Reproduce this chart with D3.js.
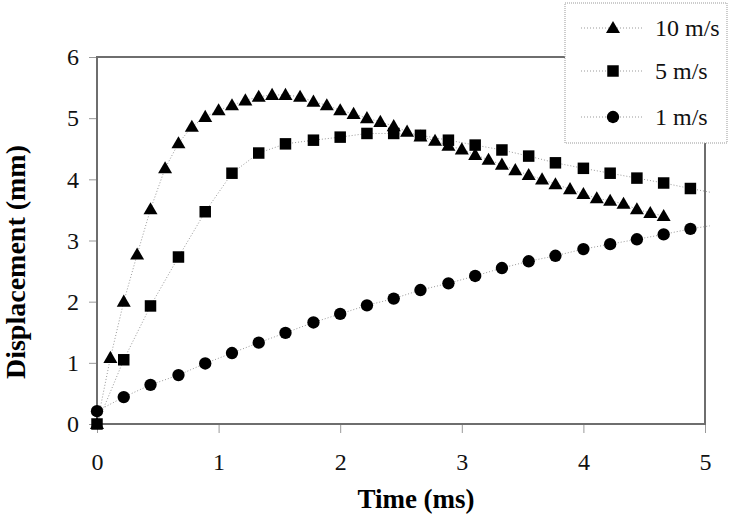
<!DOCTYPE html>
<html><head><meta charset="utf-8">
<script src="https://cdn.jsdelivr.net/npm/d3@7"></script>
<style>body{margin:0;background:#fff}svg{display:block}</style>
</head><body><svg id="c" width="733" height="516"></svg>
<script>
const seriesNames = ["10 m/s", "5 m/s", "1 m/s"];
const t10 = [0,0.11,0.22,0.33,0.44,0.56,0.67,0.78,0.89,1.00,1.11,1.22,1.33,1.44,1.55,1.67,1.78,1.89,2.00,2.11,2.22,2.33,2.44,2.55,2.66,2.78,2.89,3.00,3.11,3.22,3.33,3.44,3.55,3.66,3.77,3.89,4.00,4.11,4.22,4.33,4.44,4.55,4.66];
const v10 = [0,1.08,2.00,2.77,3.51,4.18,4.59,4.86,5.02,5.13,5.21,5.29,5.35,5.38,5.38,5.35,5.27,5.21,5.13,5.07,5.00,4.94,4.87,4.78,4.70,4.63,4.55,4.49,4.40,4.32,4.24,4.15,4.07,4.00,3.92,3.84,3.76,3.69,3.65,3.60,3.51,3.45,3.40];
const t5 = [0,0.22,0.44,0.67,0.89,1.11,1.33,1.55,1.78,2.00,2.22,2.44,2.66,2.89,3.11,3.33,3.55,3.77,4.00,4.22,4.44,4.66,4.88];
const v5 = [0,1.05,1.93,2.73,3.47,4.10,4.43,4.58,4.64,4.69,4.75,4.75,4.72,4.64,4.56,4.48,4.38,4.27,4.18,4.10,4.02,3.94,3.85];
const t1 = [0,0.22,0.44,0.67,0.89,1.11,1.33,1.55,1.78,2.00,2.22,2.44,2.66,2.89,3.11,3.33,3.55,3.77,4.00,4.22,4.44,4.66,4.88];
const v1 = [0.21,0.44,0.64,0.80,0.99,1.16,1.33,1.49,1.66,1.80,1.94,2.05,2.19,2.30,2.42,2.55,2.66,2.75,2.86,2.94,3.02,3.10,3.19];
// line continuation beyond last marker (no marker drawn)
const tail5 = [5.04, 3.79];
const tail1 = [5.04, 3.24];
const xTicks = [0,1,2,3,4,5];
const yTicks = [0,1,2,3,4,5,6];
const xTitle = "Time (ms)";
const yTitle = "Displacement (mm)";

const svg = d3.select("#c");
const x = d3.scaleLinear().domain([0,5]).range([97,705]);
const y = d3.scaleLinear().domain([0,6]).range([424,57]);
const serif = "'Liberation Serif','Times New Roman',serif";
const axisCol = "#6e6e6e";

// axes
const gx = svg.append("g").attr("transform",`translate(0,${y(0)})`)
  .call(d3.axisBottom(x).tickValues(xTicks).tickFormat(d3.format("d")).tickSize(9).tickPadding(20));
const gy = svg.append("g").attr("transform",`translate(${x(0)},0)`)
  .call(d3.axisLeft(y).tickValues(yTicks).tickFormat(d3.format("d")).tickSize(8).tickPadding(10));
[gx,gy].forEach(g=>{
  g.select(".domain").remove();
  g.selectAll(".tick line").attr("stroke","#999").attr("stroke-width",1);
  g.selectAll(".tick text").attr("font-family",serif).attr("font-size",24).attr("fill","#111");
});
// frame
svg.append("rect").attr("x",x(0)).attr("y",y(6)).attr("width",x(5)-x(0)).attr("height",y(0)-y(6))
  .attr("fill","none").attr("stroke",axisCol).attr("stroke-width",2);

const line = d3.line().x(d=>x(d[0])).y(d=>y(d[1]));
const sym = {
  tri: d3.symbol().type(d3.symbolTriangle).size(85),
  sq: d3.symbol().type(d3.symbolSquare).size(132),
  cir: d3.symbol().type(d3.symbolCircle).size(120)
};
const series = [
  {name:seriesNames[0], pts:d3.zip(t10,v10), tail:null, s:"tri"},
  {name:seriesNames[1], pts:d3.zip(t5,v5), tail:tail5, s:"sq"},
  {name:seriesNames[2], pts:d3.zip(t1,v1), tail:tail1, s:"cir"}
];
series.forEach(sr=>{
  const lp = sr.tail ? sr.pts.concat([sr.tail]) : sr.pts;
  svg.append("path").attr("d",line(lp)).attr("fill","none")
    .attr("stroke","#999").attr("stroke-width",1).attr("stroke-dasharray","1,2");
});
series.forEach(sr=>{
  svg.append("g").selectAll("path").data(sr.pts).join("path")
    .attr("transform",d=>`translate(${x(d[0])},${y(d[1])+(sr.s==="tri"?1:0)})`)
    .attr("d",sym[sr.s]()).attr("fill","#000");
});

// titles
svg.append("text").attr("x",416).attr("y",508).attr("text-anchor","middle")
  .attr("font-family",serif).attr("font-weight","bold").attr("font-size",27).text(xTitle);
svg.append("text").attr("transform","translate(25,262) rotate(-90)").attr("text-anchor","middle")
  .attr("font-family",serif).attr("font-weight","bold").attr("font-size",28).text(yTitle);

// legend
const lg = svg.append("g");
lg.append("rect").attr("x",565).attr("y",3).attr("width",162).attr("height",140)
  .attr("fill","#fff").attr("stroke","#999").attr("stroke-width",1).attr("stroke-dasharray","1,1");
const ly = [28,71,117];
series.forEach((sr,i)=>{
  lg.append("line").attr("x1",581).attr("x2",643).attr("y1",ly[i]).attr("y2",ly[i])
    .attr("stroke","#999").attr("stroke-width",1).attr("stroke-dasharray","1,2");
  lg.append("path").attr("transform",`translate(613,${ly[i]+(sr.s==="tri"?1:0)})`).attr("d",sym[sr.s]()).attr("fill","#000");
  lg.append("text").attr("x",655).attr("y",ly[i]+8).attr("font-family",serif).attr("font-size",24)
    .attr("fill","#111").text(sr.name);
});
</script></body></html>
